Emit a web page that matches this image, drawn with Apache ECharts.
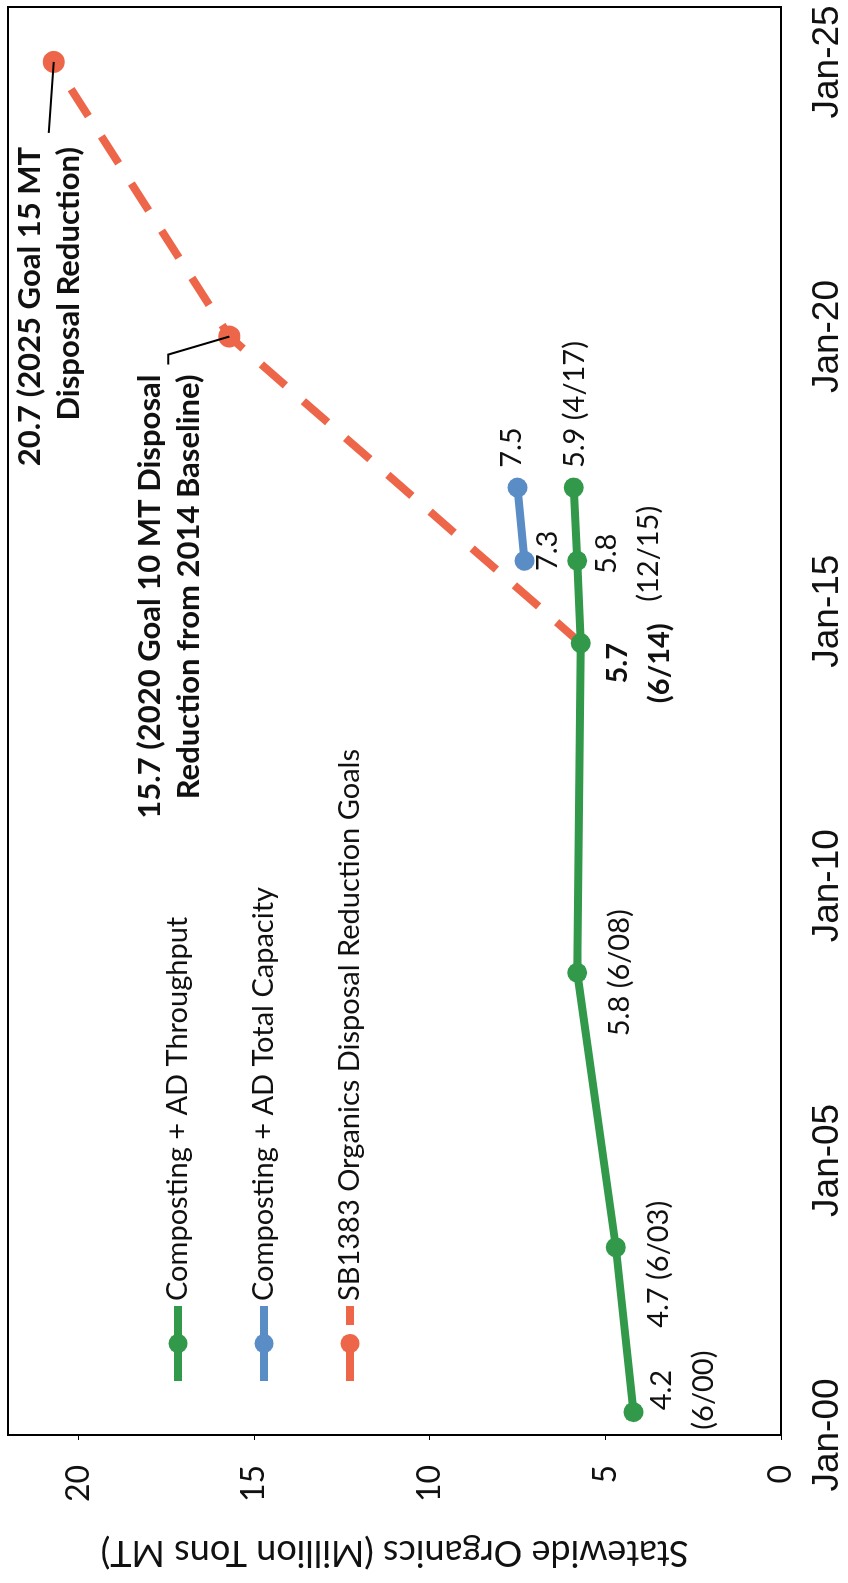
<!DOCTYPE html>
<html><head><meta charset="utf-8">
<script src="https://cdn.jsdelivr.net/npm/echarts@6/dist/echarts.min.js"></script>
<style>
html,body{margin:0;padding:0;background:#fff;overflow:hidden;width:848px;height:1583px;}
#chart{position:absolute;left:0;top:0;width:1583px;height:848px;transform-origin:0 0;transform:translate(0,1583px) rotate(-90deg);background:#fff;}
</style></head><body><div id="chart"></div>
<script>
// ---- data ----
const seriesNames = ['Composting + AD Throughput', 'Composting + AD Total Capacity', 'SB1383 Organics Disposal Reduction Goals'];
const throughputDates = ['2000-06', '2003-06', '2008-06', '2014-06', '2015-12', '2017-04'];
const throughputValues = [4.2, 4.7, 5.8, 5.7, 5.8, 5.9];
const throughputLabels = ['4.2\n(6/00)', '4.7 (6/03)', '5.8 (6/08)', '5.7\n(6/14)', '5.8\n(12/15)', '5.9 (4/17)'];
const capacityDates = ['2015-12', '2017-04'];
const capacityValues = [7.3, 7.5];
const capacityLabels = ['7.3', '7.5'];
const goalDates = ['2014-06', '2020-01', '2025-01'];
const goalValues = [5.7, 15.7, 20.7];
const goalLabels = ['', '15.7 (2020 Goal 10 MT Disposal\nReduction from 2014 Baseline)', '20.7 (2025 Goal 15 MT\nDisposal Reduction)'];
const timeTickLabels = ['Jan-00', 'Jan-05', 'Jan-10', 'Jan-15', 'Jan-20', 'Jan-25'];
const valueTickLabels = ['0', '5', '10', '15', '20'];
const valueAxisTitle = 'Statewide Organics (Million Tons MT)';

// ---- styling (kept apart from data) ----
const colors = ['#33994a', '#5a8dc6', '#ee6649'];
const throughputLabelOffsets = [[22, 49], [-17, 43], [0, 42], [-20, 58], [7, 50], [83, 1]];
const capacityLabelOffsets = [[10, 23], [40, -6]];
const goalLabelOffsets = [[0, 0], [-38, -60], [-85, -4]];
const leaderPaths = [null, [[0, 0], [-18, -61], [-28, -61]], [[0, 0], [-71, -5]]];
const FONT = 'Lato, "Open Sans", sans-serif';

function toYear(s) { const p = s.split('-').map(Number); return p[0] + (p[1] - 1) / 12; }

const baseLabel = { show: true, position: 'inside', color: '#111', fontFamily: FONT, fontSize: 29, lineHeight: 42 };

const chart = echarts.init(document.getElementById('chart'), null, { renderer: 'canvas' });
chart.setOption({
  animation: false,
  backgroundColor: '#fff',
  grid: { left: 148, right: 7, top: 8, bottom: 67, show: true, borderColor: '#000', borderWidth: 2 },
  legend: {
    orient: 'vertical', left: 198, top: 160, padding: 0,
    itemWidth: 75, itemHeight: 24, itemGap: 50,
    lineStyle: { width: 8 },
    textStyle: { fontFamily: FONT, fontSize: 29, color: '#111', lineHeight: 36 },
    data: seriesNames
  },
  xAxis: {
    type: 'value', min: 2000, max: 2026, interval: 5,
    axisLine: { show: true, lineStyle: { color: '#000', width: 2 } },
    axisTick: { show: false }, splitLine: { show: false },
    axisLabel: {
      showMaxLabel: false, margin: 28, color: '#111', fontSize: 37,
      fontFamily: '"Liberation Sans Narrow", "Arial Narrow", sans-serif',
      formatter: v => { const i = Math.round((v - 2000) / 5); return (v - 2000) % 5 === 0 && timeTickLabels[i] ? timeTickLabels[i] : ''; }
    }
  },
  yAxis: {
    type: 'value', min: 0, max: 22, interval: 5,
    name: valueAxisTitle, nameLocation: 'middle', nameGap: 100,
    nameTextStyle: { fontFamily: FONT, fontSize: 36, color: '#111' },
    axisLine: { show: true, lineStyle: { color: '#000', width: 2 } },
    axisTick: { show: true, length: 5, lineStyle: { color: '#000' } },
    splitLine: { show: false },
    axisLabel: {
      showMaxLabel: false, margin: 30, color: '#111', fontSize: 32, fontFamily: FONT,
      formatter: v => (v % 5 === 0 && valueTickLabels[v / 5] !== undefined) ? valueTickLabels[v / 5] : ''
    }
  },
  series: [
    {
      name: seriesNames[0], type: 'line', z: 4, symbol: 'circle', symbolSize: 20,
      lineStyle: { color: colors[0], width: 8 }, itemStyle: { color: colors[0] },
      label: baseLabel,
      data: throughputDates.map((d, i) => ({
        value: [toYear(d), throughputValues[i]],
        label: { formatter: throughputLabels[i], offset: throughputLabelOffsets[i], fontWeight: i === 3 ? 'bold' : 'normal' }
      }))
    },
    {
      name: seriesNames[1], type: 'line', z: 3, symbol: 'circle', symbolSize: 20,
      lineStyle: { color: colors[1], width: 8 }, itemStyle: { color: colors[1] },
      label: baseLabel,
      data: capacityDates.map((d, i) => ({
        value: [toYear(d), capacityValues[i]],
        label: { formatter: capacityLabels[i], offset: capacityLabelOffsets[i] }
      }))
    },
    {
      name: seriesNames[2], type: 'line', z: 2, symbol: 'circle', symbolSize: 22,
      lineStyle: { color: colors[2], width: 8, type: [32, 24] }, itemStyle: { color: colors[2] },
      label: Object.assign({}, baseLabel, { fontWeight: 'bold', fontSize: 31, lineHeight: 39, align: 'right', verticalAlign: 'middle' }),
      data: goalDates.map((d, i) => ({
        value: [toYear(d), goalValues[i]],
        symbol: i === 0 ? 'none' : 'circle',
        label: { show: goalLabels[i] !== '', formatter: goalLabels[i] || ' ', offset: goalLabelOffsets[i] }
      }))
    }
  ]
});

const graphics = [];
goalDates.forEach((d, i) => {
  if (!leaderPaths[i]) return;
  const p = chart.convertToPixel({ gridIndex: 0 }, [toYear(d), goalValues[i]]);
  graphics.push({
    type: 'polyline', z: 10,
    shape: { points: leaderPaths[i].map(o => [p[0] + o[0], p[1] + o[1]]) },
    style: { stroke: '#000', lineWidth: 2, fill: null }
  });
});
chart.setOption({ graphic: graphics });
</script></body></html>
